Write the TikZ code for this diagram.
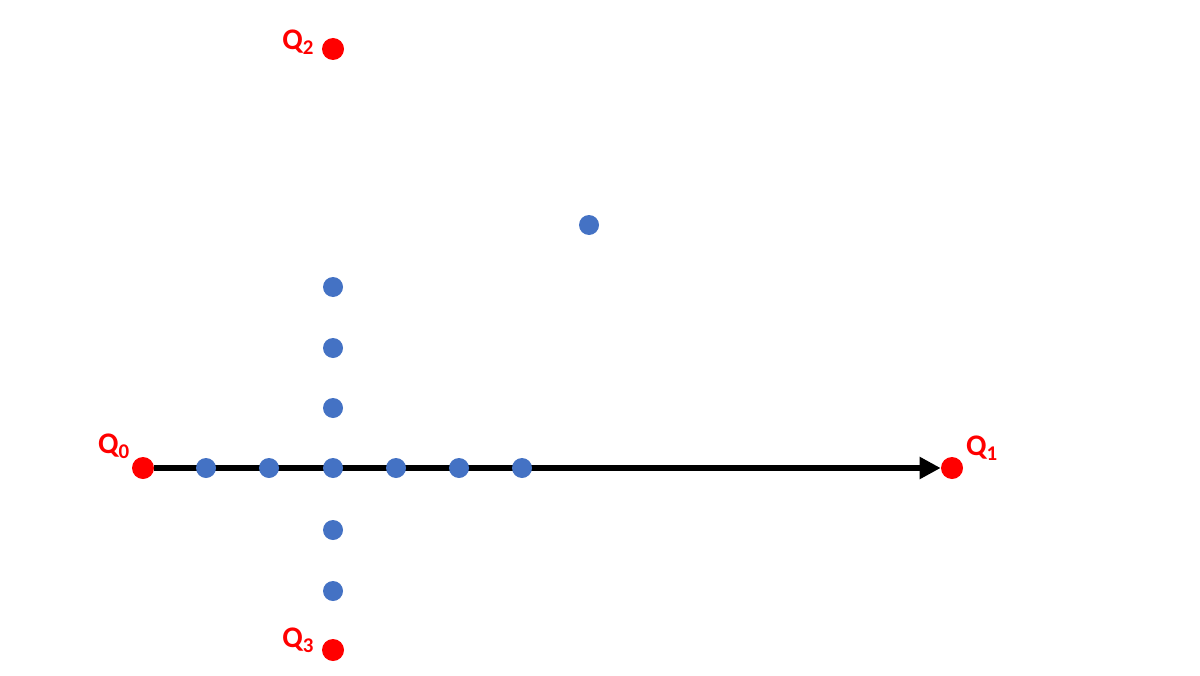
\documentclass[tikz,border=0pt]{standalone}
\usepackage{fontspec}
\setmainfont{Carlito}
\usetikzlibrary{arrows.meta,backgrounds}
\definecolor{ptblue}{HTML}{4472C4}
\begin{document}
\begin{tikzpicture}[redpt/.style={circle, fill=red, inner sep=0pt, minimum size=0.44cm},
    bluept/.style={circle, fill=ptblue, inner sep=0pt, minimum size=0.40cm},
    qtext/.style={text=red, font=\bfseries\fontsize{17}{20}\selectfont, inner sep=1pt}]
      \useasboundingbox (0,0) rectangle (24,13.5);
      \node[redpt, label={[qtext, label distance=1pt]145:Q\textsubscript{0}}] (q0) at (2.86,4.14) {};
      \node[redpt, label={[qtext, label distance=1pt]25:Q\textsubscript{1}}] (q1) at (19.04,4.14) {};
      \node[redpt, label={[qtext, label distance=3pt, yshift=0.14cm]left:Q\textsubscript{2}}] (q2) at (6.66,12.52) {};
      \node[redpt, label={[qtext, label distance=3pt, yshift=0.2cm]left:Q\textsubscript{3}}] (q3) at (6.66,0.5) {};
      \foreach \name/\x/\y in {h1/4.12/4.14, h2/5.38/4.14, c/6.66/4.14, h3/7.92/4.14, h4/9.18/4.14, h5/10.44/4.14,
        v1/6.66/7.76, v2/6.66/6.54, v3/6.66/5.34, v4/6.66/2.90, v5/6.66/1.68, p/11.78/9.0}
        \node[bluept] (\name) at (\x,\y) {};
      \begin{pgfonlayer}{background}
        \draw[line width=3.2pt, -{Triangle[length=0.42cm, width=0.42cm]}] (q0) -- (q1);
      \end{pgfonlayer}
\end{tikzpicture}
\end{document}
